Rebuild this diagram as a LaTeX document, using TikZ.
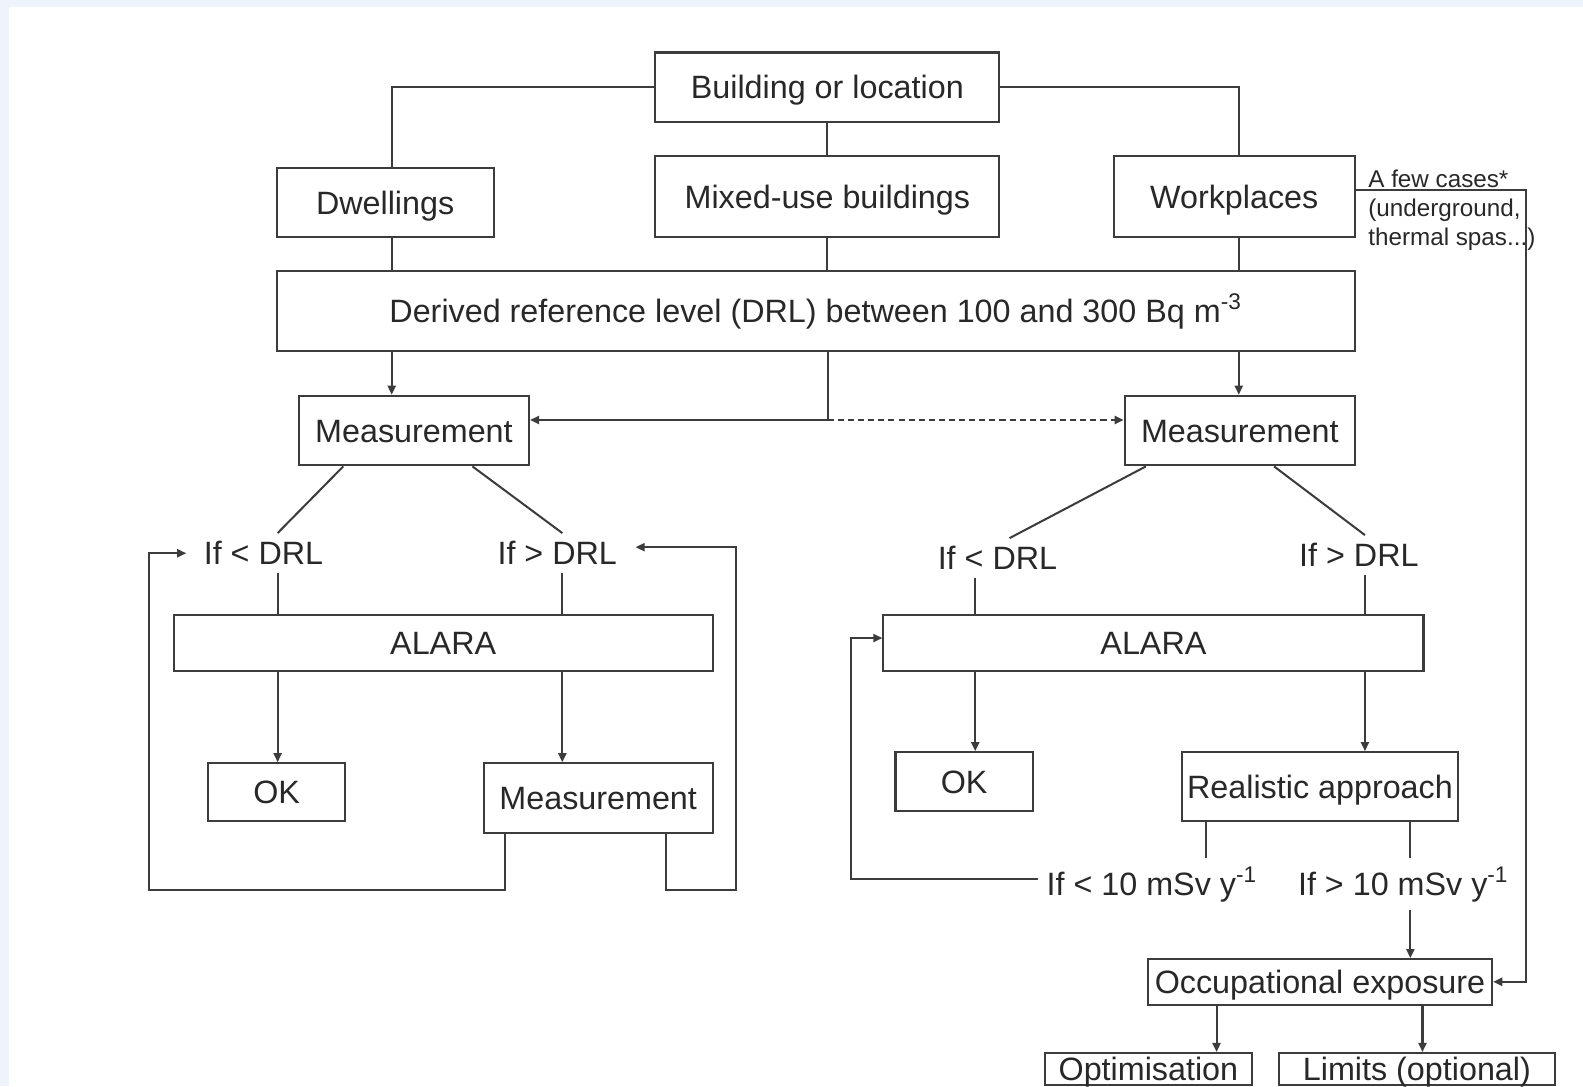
\documentclass[tikz,border=0pt]{standalone}
\usepackage{fontspec}
\setmainfont{Liberation Sans}
\usetikzlibrary{arrows.meta}
\definecolor{linegray}{RGB}{60,60,60}
\definecolor{textgray}{RGB}{40,40,40}
\definecolor{edgeblue}{RGB}{239,243,251}
\newcommand{\boxfont}{\fontsize{16}{19}\selectfont}
\newcommand{\notefont}{\fontsize{12}{14.25}\selectfont}
\begin{document}
\begin{tikzpicture}[x=0.5pt,y=-0.5pt,
	box/.style={draw=linegray, line width=1pt, inner sep=0pt, text=textgray, font=\boxfont, text height=11.5pt, text depth=0pt},
	cond/.style={inner sep=4pt, text=textgray, font=\boxfont},
	link/.style={draw=linegray, line width=1pt},
	arr/.style={link, -{Triangle[length=4.5pt,width=4pt]}}]
		    	\fill[edgeblue] (0,0) rectangle (1568,1076);
		    	\fill[white] (9,7) rectangle (1568,1076);
		    	\useasboundingbox (0,0) rectangle (1568,1076);
		    	
		    	\node[box, minimum width=170.5pt, minimum height=34.5pt] (BL) at (819.5,86.5) {Building or location};
		    	\node[box, minimum width=107.5pt, minimum height=34.5pt] (DW) at (381.5,200.5) {Dwellings};
		    	\node[box, minimum width=170.5pt, minimum height=40pt] (MU) at (819.5,195) {Mixed-use buildings};
		    	\node[box, minimum width=119.5pt, minimum height=40pt] (WP) at (1222.5,195) {Workplaces};
		    	\node[box, minimum width=534pt, minimum height=40pt] (DRL) at (808,308) {Derived reference level (DRL) between 100 and 300 Bq m\textsuperscript{-3}};
		    	\node[box, minimum width=114pt, minimum height=34.5pt] (ML) at (410,426.5) {Measurement};
		    	\node[box, minimum width=114pt, minimum height=34.5pt] (MR) at (1228,426.5) {Measurement};
		    	\node[cond] (LLT) at (261,548) {If < DRL};
		    	\node[cond] (LGT) at (552,548) {If > DRL};
		    	\node[cond] (RLT) at (988,553) {If < DRL};
		    	\node[cond] (RGT) at (1346,550) {If > DRL};
		    	\node[box, minimum width=267pt, minimum height=28pt] (AL) at (439,637) {ALARA};
		    	\node[box, minimum width=267.5pt, minimum height=28pt] (AR) at (1142.5,637) {ALARA};
		    	\node[box, minimum width=68pt, minimum height=28.5pt] (OKL) at (274,784.5) {OK};
		    	\node[box, minimum width=113.5pt, minimum height=34.5pt] (ML2) at (592.5,790.5) {Measurement};
		    	\node[box, minimum width=68pt, minimum height=29pt] (OKR) at (955,774) {OK};
		    	\node[box, minimum width=136.5pt, minimum height=34pt] (RA) at (1307.5,779) {Realistic approach};
		    	\node[cond] (LTT) at (1141,876) {If < 10 mSv y\textsuperscript{-1}};
		    	\node[cond] (GTT) at (1390,876) {If > 10 mSv y\textsuperscript{-1}};
		    	\node[box, minimum width=170.5pt, minimum height=22.5pt] (OE) at (1307.5,972.5) {Occupational exposure};
		    	\node[box, minimum width=102.5pt, minimum height=16pt] (OP) at (1137.5,1059) {Optimisation};
		    	\node[box, minimum width=136.5pt, minimum height=16pt] (LI) at (1403.5,1059) {Limits (optional)};
		    	\node[anchor=north west, inner sep=0pt, align=left, text=textgray, font=\notefont] (FC) at (1355,168) {A few cases*\\(underground,\\thermal spas...)};
		    	
		    	\coordinate (CL) at (388,0);
		    	\coordinate (CM) at (820,416);
		    	\coordinate (CR) at (1227,0);
		    	\coordinate (XA) at (275,0);
		    	\coordinate (XB) at (557,0);
		    	\coordinate (XC) at (966,0);
		    	\coordinate (XD) at (1352,0);
		    	\coordinate (XE) at (1195,0);
		    	\coordinate (XF) at (1397,0);
		    	\coordinate (XG) at (1205,0);
		    	\coordinate (XH) at (1409,0);
		    	\coordinate (LP1) at (148,882);
		    	\coordinate (LP2) at (729,882);
		    	\coordinate (LP3) at (843,632);
		    	\coordinate (WX) at (1512,188);
		    	
		    	\draw[link] (BL.west) -| (DW.north -| CL);
		    	\draw[link] (BL.east) -| (WP.north -| CR);
		    	\draw[link] (BL)--(MU);
		    	\draw[link] (DW.south -| CL)--(DRL.north -| CL);
		    	\draw[link] (MU.south)--(MU.south |- DRL.north);
		    	\draw[link] (WP.south -| CR)--(DRL.north -| CR);
		    	\draw[arr] (DRL.south -| CL)--(ML.north -| CL);
		    	\draw[arr] (DRL.south -| CR)--(MR.north -| CR);
		    	\draw[link] (DRL.south -| CM)--(CM);
		    	\draw[arr] (CM)--(CM -| ML.east);
		    	\draw[arr, dash pattern=on 3pt off 2pt] (CM)--(CM -| MR.west);
		    	
		    	\draw[link] ([xshift=-35pt]ML.south)--(LLT.north -| XA);
		    	\draw[link] ([xshift=29pt]ML.south)--(LGT.north -| XB);
		    	\draw[link] (LLT.south -| XA)--(AL.north -| XA);
		    	\draw[link] (LGT.south -| XB)--(AL.north -| XB);
		    	\draw[arr] (AL.south -| XA)--(OKL.north -| XA);
		    	\draw[arr] (AL.south -| XB)--(ML2.north -| XB);
		    	\draw[arr] ([xshift=-46.25pt]ML2.south) |- (LP1) |- ([xshift=-4.5pt]LLT.west);
		    	\draw[arr] ([xshift=33.75pt]ML2.south) |- (LP2) |- ([shift={(5pt,3pt)}]LGT.east);
		    	
		    	\draw[link] ([xshift=-46.5pt]MR.south)--([xshift=6pt]RLT.north);
		    	\draw[link] ([xshift=17pt]MR.south)--([xshift=3pt]RGT.north);
		    	\draw[link] (RLT.south -| XC)--(AR.north -| XC);
		    	\draw[link] (RGT.south -| XD)--(AR.north -| XD);
		    	\draw[arr] (AR.south -| XC)--(OKR.north -| XC);
		    	\draw[arr] (AR.south -| XD)--(RA.north -| XD);
		    	\draw[link] (RA.south -| XE)--(LTT.north -| XE);
		    	\draw[link] (RA.south -| XF)--(GTT.north -| XF);
		    	\draw[arr] (GTT.south -| XF)--(OE.north -| XF);
		    	\draw[arr] ([yshift=2.5pt]LTT.west) -| (LP3)--([yshift=2.5pt]AR.west);
		    	\draw[arr] ([yshift=3.5pt]WP.east)--(WX) |- (OE.east);
		    	\draw[arr] (OE.south -| XG)--(OP.north -| XG);
		    	\draw[arr] (OE.south -| XH)--(LI.north -| XH);
\end{tikzpicture}
\end{document}
